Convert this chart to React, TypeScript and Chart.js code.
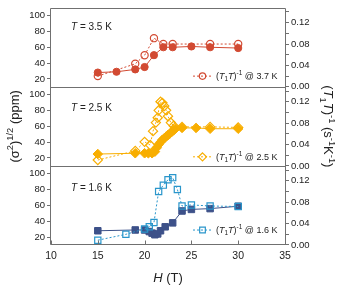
import React, { useEffect, useRef } from 'react';
import { Chart, registerables } from 'chart.js';

Chart.register(...registerables);

// ---------- data ----------
const xTicks = [10, 15, 20, 25, 30, 35];
const leftTicks = [20, 40, 60, 80, 100];
const rightTicks = [0, 0.02, 0.04, 0.06, 0.08, 0.1, 0.12, 0.14];
const rightTickLabels = ['0.00', '', '0.04', '', '0.08', '', '0.12', ''];

// T = 3.5 K, (sigma^2)^1/2 (ppm)
const h35 = [15, 17, 19, 20, 21, 22, 23, 25, 27, 30];
const sigma35 = [28, 29, 32, 35, 50, 60, 60, 61, 60, 59];
// (T1T)^-1 @ 3.7 K
const h37 = [15, 19, 20, 21, 22, 23, 27, 30];
const t1t37 = [0.02, 0.043, 0.059, 0.091, 0.08, 0.08, 0.08, 0.08];

// T = 2.5 K
const h25 = [15, 19, 20, 20.4, 20.8, 21.1, 21.3, 21.5, 21.7, 21.9, 22.1, 22.3, 22.5, 22.7, 22.9, 23.1, 23.3, 24, 25.5, 27, 30];
const sigma25 = [25, 26, 26, 26, 26, 28, 33, 37, 40, 43, 45, 47, 49, 51, 53, 55, 57, 58, 58, 57, 57];
const h25t = [15, 19, 20, 20.6, 20.9, 21.2, 21.4, 21.5, 21.7, 21.9, 22.1, 22.3, 22.5, 22.8, 23.1, 24, 27, 30];
const t1t25 = [0.011, 0.028, 0.045, 0.039, 0.065, 0.081, 0.09, 0.104, 0.12, 0.118, 0.112, 0.104, 0.093, 0.081, 0.075, 0.073, 0.073, 0.072];

// T = 1.6 K
const h16 = [15, 19, 20, 20.5, 20.8, 21.1, 21.4, 21.7, 22.2, 23, 24, 25, 27, 30];
const sigma16 = [28, 29, 29, 27, 25, 23, 24, 28, 33, 38, 53, 55, 56, 59];
const h16t = [15, 18, 20, 20.5, 21, 21.5, 22, 22.5, 23, 23.5, 24, 25, 27, 30];
const t1t16 = [0.009, 0.02, 0.03, 0.034, 0.042, 0.1, 0.112, 0.122, 0.126, 0.104, 0.073, 0.075, 0.073, 0.072];

const panelLabels = ['3.5 K', '2.5 K', '1.6 K'];
const legendLabels = ['3.7 K', '2.5 K', '1.6 K'];

// ---------- styles ----------
const RED = '#d24a32';
const ORANGE = '#f8ae00';
const NAVY = '#3d5189';
const CYAN = '#2a96cb';
const FRAME = '#707070';
const TEXT = '#222';
const FONT = '"Liberation Sans", Arial, Helvetica, sans-serif';

const styles = [
  { solid: RED, open: RED, shape: 'circle', rSolid: 3.6, rOpen: 3.6 },
  { solid: ORANGE, open: ORANGE, shape: 'rectRot', rSolid: 4.8, rOpen: 4.6 },
  { solid: NAVY, open: CYAN, shape: 'rect', rSolid: 4.6, rOpen: 4.4 },
];

const mk = (xs: number[], ys: number[]) => xs.map((x, i) => ({ x, y: ys[i] }));

type Seg = { t: string; it?: boolean; sup?: boolean; sub?: boolean };

function drawRich(ctx: CanvasRenderingContext2D, segs: Seg[], x: number, y: number, size: number, align: 'left' | 'center') {
  const fontOf = (s: number, it?: boolean) => `${it ? 'italic ' : ''}${s}px ${FONT}`;
  const widths = segs.map((s) => {
    ctx.font = fontOf(s.sup || s.sub ? size * 0.72 : size, s.it);
    return ctx.measureText(s.t).width;
  });
  const total = widths.reduce((a, b) => a + b, 0);
  let cx = align === 'center' ? x - total / 2 : x;
  ctx.textAlign = 'left';
  ctx.textBaseline = 'alphabetic';
  segs.forEach((s, i) => {
    ctx.font = fontOf(s.sup || s.sub ? size * 0.72 : size, s.it);
    const dy = s.sup ? -size * 0.42 : s.sub ? size * 0.25 : 0;
    ctx.fillText(s.t, cx, y + dy);
    cx += widths[i];
  });
}

function drawMarker(ctx: CanvasRenderingContext2D, shape: string, x: number, y: number, r: number) {
  ctx.beginPath();
  if (shape === 'circle') {
    ctx.arc(x, y, r, 0, Math.PI * 2);
  } else if (shape === 'rectRot') {
    ctx.moveTo(x, y - r);
    ctx.lineTo(x + r, y);
    ctx.lineTo(x, y + r);
    ctx.lineTo(x - r, y);
    ctx.closePath();
  } else {
    const s = r * Math.SQRT1_2;
    ctx.rect(x - s, y - s, 2 * s, 2 * s);
  }
  ctx.stroke();
}

const legendR = [0.02, 0.017, 0.028];
const labelOffsets = [19, 20.5, 22];

const decoPlugin = {
  id: 'deco',
  afterDraw(chart: any) {
    const ctx: CanvasRenderingContext2D = chart.ctx;
    const ca = chart.chartArea;
    const xs = chart.scales.x;
    ctx.save();
    // frame
    ctx.strokeStyle = FRAME;
    ctx.lineWidth = 1;
    const L = Math.round(ca.left) - 0.5;
    const R = Math.round(ca.right) + 0.5;
    const T = Math.round(ca.top) + 0.5;
    const B = Math.round(ca.bottom) - 0.5;
    ctx.beginPath();
    ctx.rect(L, T, R - L, B - T);
    ['yL1', 'yL2'].forEach((id) => {
      const yb = Math.round(chart.scales[id].bottom) + 0.5;
      ctx.moveTo(L, yb);
      ctx.lineTo(R, yb);
    });
    // inward x ticks
    xTicks.forEach((v) => {
      const px = Math.round(xs.getPixelForValue(v)) + 0.5;
      ctx.moveTo(px, B);
      ctx.lineTo(px, B - 4);
    });
    ctx.stroke();

    ctx.fillStyle = TEXT;
    // panel labels + legends
    ['yL1', 'yL2', 'yL3'].forEach((id, i) => {
      const sc = chart.scales[id];
      drawRich(ctx, [{ t: 'T', it: true }, { t: ' = ' + panelLabels[i] }], 71, sc.top + labelOffsets[i] + 3.5, 10, 'left');
      const rs = chart.scales['yR' + (i + 1)];
      const ly = rs.getPixelForValue(legendR[i]);
      const st = styles[i];
      ctx.strokeStyle = st.open;
      ctx.lineWidth = 1;
      ctx.setLineDash([2, 2]);
      ctx.beginPath();
      ctx.moveTo(193, ly);
      ctx.lineTo(212, ly);
      ctx.stroke();
      ctx.setLineDash([]);
      ctx.lineWidth = 1.2;
      drawMarker(ctx, st.shape, 202.5, ly, st.shape === 'circle' ? 3.2 : 4);
      ctx.fillStyle = TEXT;
      drawRich(
        ctx,
        [
          { t: '(' },
          { t: 'T', it: true },
          { t: '1', sub: true },
          { t: 'T', it: true },
          { t: ')' },
          { t: '-1', sup: true },
          { t: ' @ ' + legendLabels[i] },
        ],
        216,
        ly + 3,
        9,
        'left'
      );
    });

    // axis titles
    ctx.fillStyle = TEXT;
    const midY = (ca.top + ca.bottom) / 2;
    drawRich(ctx, [{ t: 'H', it: true }, { t: ' (T)' }], (ca.left + ca.right) / 2, 282, 13, 'center');

    ctx.save();
    ctx.translate(18.5, midY);
    ctx.rotate(-Math.PI / 2);
    drawRich(ctx, [{ t: '(σ' }, { t: '2', sup: true }, { t: ')' }, { t: '1/2', sup: true }, { t: ' (ppm)' }], 0, 0, 13, 'center');
    ctx.restore();

    ctx.save();
    ctx.translate(323.5, midY);
    ctx.rotate(Math.PI / 2);
    drawRich(
      ctx,
      [
        { t: '(' },
        { t: 'T', it: true },
        { t: '1', sub: true },
        { t: 'T', it: true },
        { t: ')' },
        { t: '-1', sup: true },
        { t: ' (s' },
        { t: '-1', sup: true },
        { t: 'K' },
        { t: '-1', sup: true },
        { t: ')' },
      ],
      0,
      0,
      13,
      'center'
    );
    ctx.restore();
    ctx.restore();
  },
};

function leftAxis(weight: number) {
  return {
    type: 'linear',
    position: 'left',
    stack: 'L',
    weight,
    min: 10,
    max: 110,
    afterBuildTicks: (s: any) => {
      s.ticks = leftTicks.map((v) => ({ value: v }));
    },
    afterFit: (s: any) => {
      s.width = 51;
    },
    grid: { display: true, drawOnChartArea: false, drawTicks: true, tickLength: 4, color: FRAME },
    border: { display: false },
    ticks: { padding: 2, autoSkip: false, color: TEXT, font: { family: FONT, size: 9.5 } },
  };
}

function rightAxis(weight: number) {
  return {
    type: 'linear',
    position: 'right',
    stack: 'R',
    weight,
    min: 0,
    max: 0.148,
    afterBuildTicks: (s: any) => {
      s.ticks = rightTicks.map((v) => ({ value: v }));
    },
    afterFit: (s: any) => {
      s.width = 57;
    },
    grid: { display: true, drawOnChartArea: false, drawTicks: true, tickLength: 4, color: FRAME },
    border: { display: false },
    ticks: {
      padding: 2,
      autoSkip: false,
      color: TEXT,
      font: { family: FONT, size: 9.5 },
      callback: (_v: any, i: number) => rightTickLabels[i],
    },
  };
}

export default function App() {
  const ref = useRef<HTMLCanvasElement | null>(null);
  useEffect(() => {
    document.body.style.margin = '0';
    const canvas = ref.current;
    if (!canvas) return;
    const series = [
      [h35, sigma35, h37, t1t37],
      [h25, sigma25, h25t, t1t25],
      [h16, sigma16, h16t, t1t16],
    ];
    const datasets: any[] = [];
    series.forEach((s, i) => {
      const st = styles[i];
      datasets.push({
        data: mk(s[2] as number[], s[3] as number[]),
        yAxisID: 'yR' + (i + 1),
        showLine: true,
        borderColor: st.open,
        borderWidth: 1,
        borderDash: [2, 2],
        pointStyle: st.shape,
        pointRadius: st.rOpen,
        pointBorderWidth: 1.2,
        pointBorderColor: st.open,
        pointBackgroundColor: 'rgba(0,0,0,0)',
      });
      datasets.push({
        data: mk(s[0] as number[], s[1] as number[]),
        yAxisID: 'yL' + (i + 1),
        showLine: true,
        borderColor: st.solid,
        borderWidth: 1,
        pointStyle: st.shape,
        pointRadius: st.rSolid,
        pointBorderWidth: 1,
        pointBorderColor: st.solid,
        pointBackgroundColor: st.solid,
      });
    });
    const chart = new Chart(canvas, {
      type: 'scatter',
      data: { datasets },
      options: {
        animation: false,
        responsive: false,
        events: [],
        layout: { padding: { top: 1, left: 0, right: 0, bottom: 0 } },
        plugins: { legend: { display: false }, tooltip: { enabled: false } },
        scales: {
          x: {
            type: 'linear',
            position: 'bottom',
            min: 10,
            max: 35,
            afterBuildTicks: (s: any) => {
              s.ticks = xTicks.map((v) => ({ value: v }));
            },
            afterFit: (s: any) => {
              s.height = 55;
            },
            grid: { display: false, drawTicks: false },
            border: { display: false },
            ticks: { padding: 5, autoSkip: false, maxRotation: 0, color: TEXT, font: { family: FONT, size: 10.5 } },
          },
          yL1: leftAxis(3),
          yL2: leftAxis(2),
          yL3: leftAxis(1),
          yR1: rightAxis(1),
          yR2: rightAxis(2),
          yR3: rightAxis(3),
        } as any,
      },
      plugins: [decoPlugin],
    });
    return () => chart.destroy();
  }, []);
  return (
    <div style={{ width: 342, height: 300 }}>
      <canvas ref={ref} width={342} height={300} style={{ display: 'block' }} />
    </div>
  );
}
